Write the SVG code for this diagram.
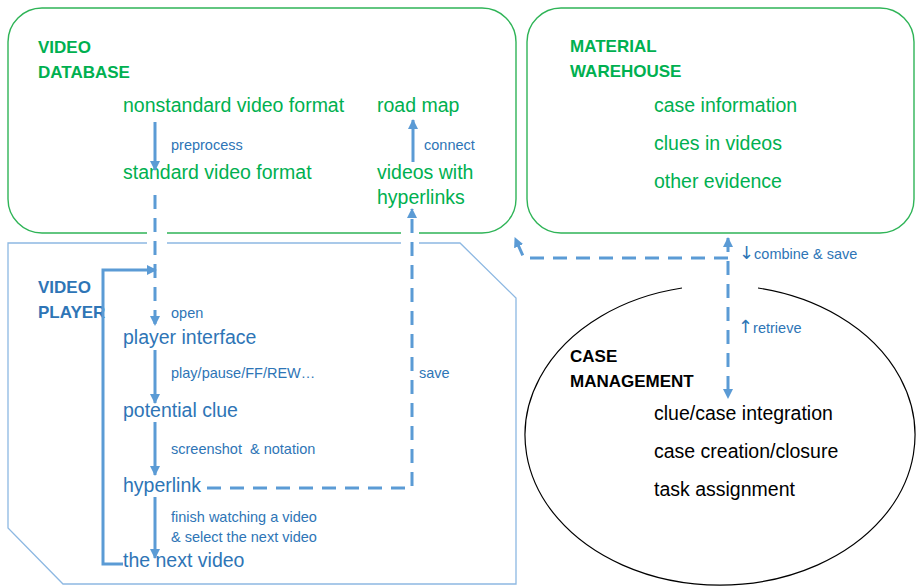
<svg xmlns="http://www.w3.org/2000/svg" width="917" height="586" viewBox="0 0 917 586">
  <style>
    .green-box { fill: none; stroke: #2fb457; stroke-width: 1.4; }
    .player-box { fill: none; stroke: #8db8e2; stroke-width: 1.3; }
    .case-box { fill: none; stroke: #000; stroke-width: 1.2; }
    .title { font-family: "Liberation Sans", Arial, sans-serif; font-weight: bold; font-size: 17px; }
    .item { font-family: "Liberation Sans", Arial, sans-serif; font-size: 19.5px; }
    .label { font-family: "Liberation Sans", Arial, sans-serif; font-size: 14.5px; fill: #2e75b6; }
    .sym { font-family: "DejaVu Sans", sans-serif; font-size: 18px; }
    .g { fill: #00b050; }
    .b { fill: #2e75b6; }
    .k { fill: #000; }
    .solid { fill: none; stroke: #5b9bd5; stroke-width: 3; }
    .dash { fill: none; stroke: #5b9bd5; stroke-width: 3; stroke-dasharray: 14 9; }
  </style>
  <defs>
    <marker id="arrow" viewBox="0 0 10 10" refX="9" refY="5" markerWidth="10" markerHeight="10" markerUnits="userSpaceOnUse" orient="auto-start-reverse">
      <path d="M0 0 L10 5 L0 10 Z" fill="#5b9bd5"/>
    </marker>
  </defs>

  <rect width="917" height="586" fill="#fff"/>

  <!-- Video database -->
  <g id="video-database">
    <rect class="green-box" x="8" y="8" width="508" height="225" rx="34" ry="34"/>
    <text class="title g" x="38" y="53">VIDEO</text>
    <text class="title g" x="38" y="78">DATABASE</text>
    <text class="item g" x="123" y="112">nonstandard video format</text>
    <text class="item g" x="123" y="179">standard video format</text>
    <text class="item g" x="377" y="112">road map</text>
    <text class="item g" x="377" y="179">videos with</text>
    <text class="item g" x="377" y="204">hyperlinks</text>
  </g>

  <!-- Material warehouse -->
  <g id="material-warehouse">
    <rect class="green-box" x="527" y="8" width="387" height="225" rx="34" ry="34"/>
    <text class="title g" x="570" y="52">MATERIAL</text>
    <text class="title g" x="570" y="77">WAREHOUSE</text>
    <text class="item g" x="654" y="112">case information</text>
    <text class="item g" x="654" y="150">clues in videos</text>
    <text class="item g" x="654" y="188">other evidence</text>
  </g>

  <!-- Video player -->
  <g id="video-player">
    <path class="player-box" d="M8 243 H460 L516 298 V584 H63 L8 528 Z"/>
    <text class="title b" x="38" y="293">VIDEO</text>
    <text class="title b" x="38" y="318">PLAYER</text>
    <text class="item b" x="123" y="344">player interface</text>
    <text class="item b" x="123" y="417">potential clue</text>
    <text class="item b" x="123" y="492">hyperlink</text>
    <text class="item b" x="123" y="567">the next video</text>
  </g>

  <!-- Case management -->
  <g id="case-management">
    <path class="case-box" d="M758 288 A195 150 0 1 1 682 288"/>
    <text class="title k" x="570" y="362">CASE</text>
    <text class="title k" x="570" y="387">MANAGEMENT</text>
    <text class="item k" x="654" y="420">clue/case integration</text>
    <text class="item k" x="654" y="458">case creation/closure</text>
    <text class="item k" x="654" y="496">task assignment</text>
  </g>

  <!-- Connectors -->
  <g id="connectors">
    <!-- openings where dashed connectors cross the box edges -->
    <rect x="147" y="226" width="20" height="22" fill="#fff"/>
    <rect x="401" y="226" width="18" height="22" fill="#fff"/>

    <line class="solid" x1="155" y1="122" x2="155" y2="170" marker-end="url(#arrow)"/>
    <text class="label" x="171" y="150">preprocess</text>

    <line class="solid" x1="413" y1="162" x2="413" y2="120" marker-end="url(#arrow)"/>
    <text class="label" x="424" y="150">connect</text>

    <line class="dash" x1="155" y1="195" x2="155" y2="325" marker-end="url(#arrow)"/>
    <text class="label" x="171" y="318">open</text>

    <line class="solid" x1="155" y1="350" x2="155" y2="403" marker-end="url(#arrow)"/>
    <text class="label" x="171" y="378">play/pause/FF/REW…</text>

    <line class="solid" x1="155" y1="422" x2="155" y2="475" marker-end="url(#arrow)"/>
    <text class="label" x="171" y="454" xml:space="preserve">screenshot  &amp; notation</text>

    <line class="solid" x1="155" y1="497" x2="155" y2="558" marker-end="url(#arrow)"/>
    <text class="label" x="171" y="522">finish watching a video</text>
    <text class="label" x="171" y="542">&amp; select the next video</text>

    <path class="solid" d="M123 564 H103 V270 H156" marker-end="url(#arrow)"/>

    <path class="dash" d="M207 488 H412 V209" marker-end="url(#arrow)"/>
    <text class="label" x="419" y="378">save</text>

    <line class="dash" x1="728" y1="238" x2="728" y2="398" marker-start="url(#arrow)" marker-end="url(#arrow)"/>
    <path class="dash" d="M728 258 H524 L515 238" marker-end="url(#arrow)"/>
    <text class="label" x="739" y="259"><tspan class="sym">↓</tspan>combine &amp; save</text>
    <text class="label" x="738" y="333"><tspan class="sym">↑</tspan>retrieve</text>
  </g>
</svg>
